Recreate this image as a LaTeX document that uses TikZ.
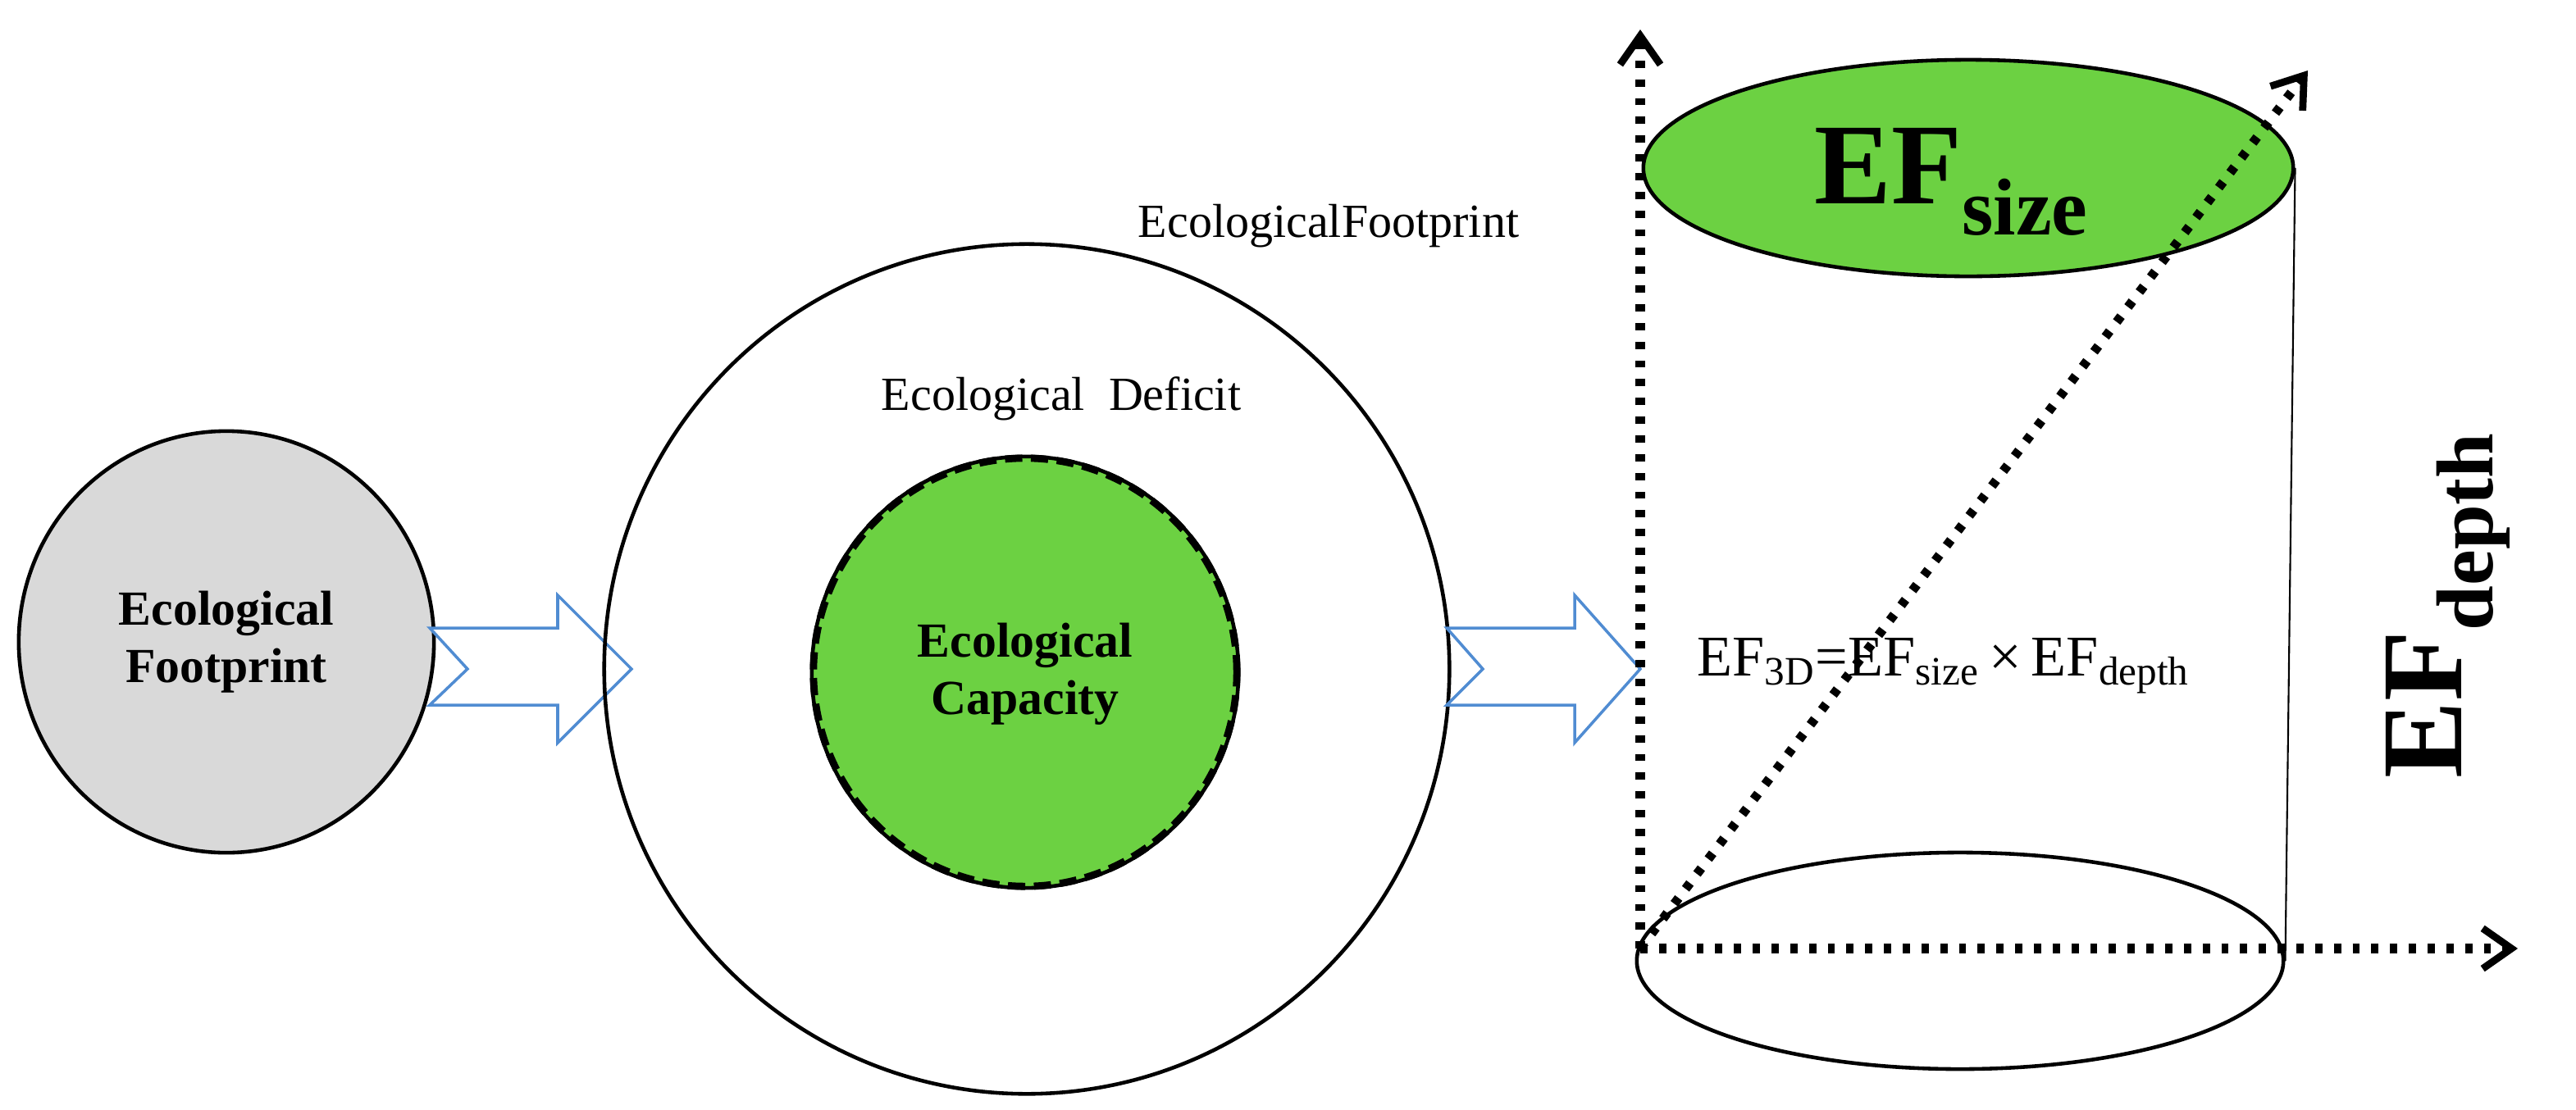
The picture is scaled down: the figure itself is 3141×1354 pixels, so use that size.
\documentclass[tikz,border=0pt]{standalone}
\usepackage{fontspec}
\setmainfont{Liberation Serif}
\usetikzlibrary{shapes.geometric,arrows.meta}
\definecolor{gr}{RGB}{108,209,66}
\definecolor{bl}{RGB}{80,140,210}
\begin{document}
\begin{tikzpicture}[x=0.01cm,y=-0.01cm,
  dotax/.style={line width=3.2pt,dash pattern=on 2.5pt off 4pt,-{Straight Barb[length=10pt,width=14pt,line width=2.5pt]}},
  barrow/.style={draw=bl,fill=white,line width=1pt,line join=miter},
  lbl/.style={font=\bfseries\fontsize{17}{20}\selectfont,align=center}]
\useasboundingbox (0,0) rectangle (3141,1354);
% left circle
\node[ellipse,draw,line width=1.3pt,fill=black!15,minimum width=5.06cm,minimum height=5.14cm] (fp) at (276,783) {};
\node[lbl] (fpt) at (276,783) {Ecological\\Footprint};
% arrow 1
\draw[barrow] (524,766)--(680,766)--(680,726)--(770,816)--(680,906)--(680,860)--(524,860)--(570,816)--cycle;
% big circle
\node[ellipse,draw,line width=1.3pt,minimum width=10.3cm,minimum height=10.36cm] (big) at (1252,816) {};
\node[ellipse,draw,line width=1.3pt,fill=gr,minimum width=5.2cm,minimum height=5.26cm] (cap) at (1250,820) {};
\draw[line width=2.5pt,dash pattern=on 6pt off 3pt] (cap) ellipse (2.58cm and 2.61cm);
\node[lbl] (capt) at (1250,822) {Ecological\\Capacity};
\node[font=\fontsize{16.5}{20}\selectfont] (def) at (1294,486) {Ecological\ \ Deficit};
\node[font=\fontsize{16.5}{20}\selectfont] (efp) at (1620,276) {EcologicalFootprint};
% arrow 2
\draw[barrow] (1764,766)--(1920,766)--(1920,726)--(2000,816)--(1920,906)--(1920,860)--(1764,860)--(1808,816)--cycle;
% cylinder
\node[ellipse,draw,line width=1.3pt,fill=gr,minimum width=7.92cm,minimum height=2.64cm] (top) at (2400,205) {};
\node[ellipse,draw,line width=1.3pt,minimum width=7.88cm,minimum height=2.64cm] (bot) at (2390,1172) {};
\draw[line width=0.6pt] (top.east) -- (bot.east);
\node[font=\bfseries\fontsize{40}{44}\selectfont] (efs) at (2380,222) {EF\textsubscript{size}};
\node[font=\fontsize{20}{24}\selectfont] (form) at (2370,812) {EF\textsubscript{3D}=EF\textsubscript{size}\,×\,EF\textsubscript{depth}};
\node[rotate=90,font=\bfseries\fontsize{40}{44}\selectfont] (efd) at (2985,738) {EF\textsubscript{depth}};
% axes
\coordinate (o) at (2000,1157);
\coordinate (ay) at (2000,36);
\coordinate (ax) at (3070,1157);
\coordinate (ad) at (2814,86);
\draw[dotax] (o) -- (ay);
\draw[dotax] (o) -- (ax);
\draw[dotax] (o) -- (ad);
\end{tikzpicture}
\end{document}
